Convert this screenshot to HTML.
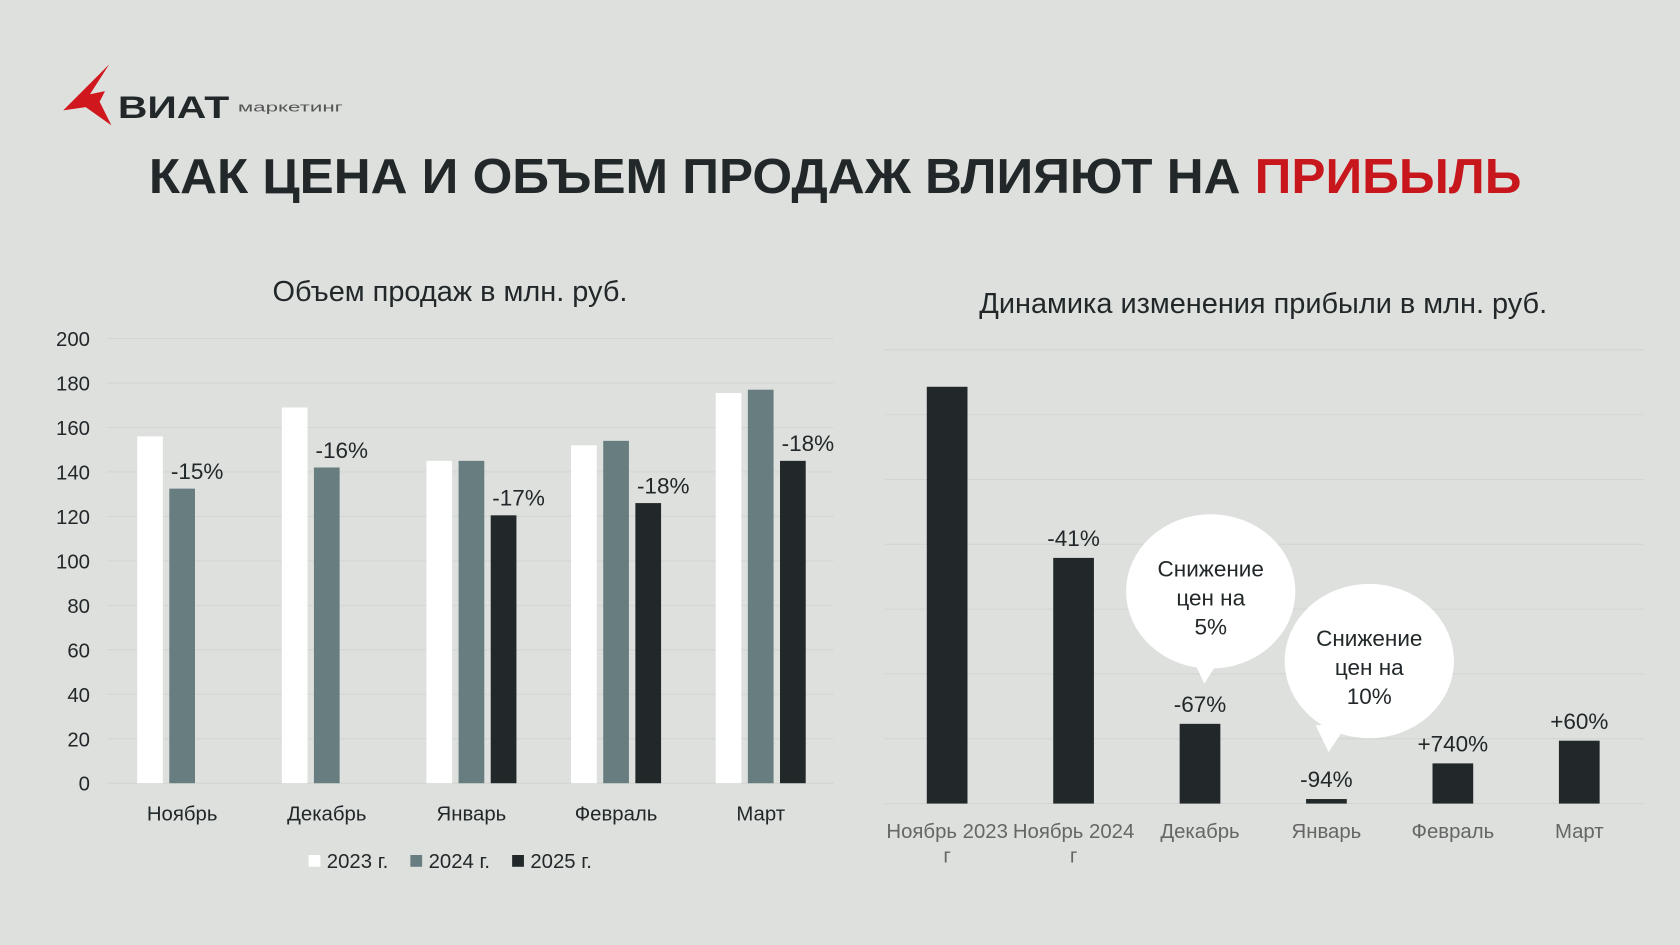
<!DOCTYPE html>
<html><head><meta charset="utf-8">
<style>
html,body{margin:0;padding:0;background:#dde0dd;}
svg{display:block;}
text{font-family:"Liberation Sans Narrow","Liberation Sans",sans-serif;}
</style></head>
<body>
<svg id="root" width="1680" height="945" viewBox="0 0 1568 882" xmlns="http://www.w3.org/2000/svg">
<rect width="1568" height="882" fill="#dde0dd"/>
<g>
<polygon points="102,60 59,103 80,100 104,117 93,95 98,85 84,88" fill="#d0171d"/>
<text x="110" y="110" font-family="Liberation Sans" font-weight="bold" font-size="29" fill="#222829" textLength="104" lengthAdjust="spacingAndGlyphs">ВИАТ</text>
<text x="222" y="104" font-family="Liberation Sans" font-size="12" fill="#555" textLength="98" lengthAdjust="spacingAndGlyphs">маркетинг</text>
</g>
<text x="139" y="180" font-family="Liberation Sans" font-weight="bold" font-size="46" fill="#222829" textLength="1281" lengthAdjust="spacingAndGlyphs">КАК ЦЕНА И ОБЪЕМ ПРОДАЖ ВЛИЯЮТ НА <tspan fill="#c8161d">ПРИБЫЛЬ</tspan></text>
<text x="420" y="281" text-anchor="middle" font-size="27" fill="#222829">Объем продаж в млн. руб.</text>
<text x="1179" y="292" text-anchor="middle" font-size="27" fill="#222829">Динамика изменения прибыли в млн. руб.</text>
<g id="left"></g>
<g id="right"></g>
</svg>
<script>
const NS='http://www.w3.org/2000/svg';
const salesCats=['Ноябрь','Декабрь','Январь','Февраль','Март'];
const sales2023=[156,169,145,152,175.5];
const sales2024=[132.5,142,145,154,177];
const sales2025=[0,0,120.5,126,145];
const salesLabels=['-15%','-16%','-17%','-18%','-18%'];
const salesLabelSeries=[1,1,2,2,2];
const salesTicks=[0,20,40,60,80,100,120,140,160,180,200];
const profitCats=[['Ноябрь 2023','г'],['Ноябрь 2024','г'],['Декабрь'],['Январь'],['Февраль'],['Март']];
const profitValues=[6.43,3.79,1.23,0.07,0.62,0.97];
const profitLabels=['','-41%','-67%','-94%','+740%','+60%'];
const profitGrid=[0,1,2,3,4,5,6,7];

function mk(tag,attrs,parent,txt){const e=document.createElementNS(NS,tag);for(const k in attrs)e.setAttribute(k,attrs[k]);if(txt!==undefined)e.textContent=txt;parent.appendChild(e);return e;}

// left chart
const L=document.getElementById('left');
const ly=v=>731-v*2.075;
const lx=i=>170+i*135;
salesTicks.forEach(t=>{
 const g=mk('line',{x1:100,x2:778,y1:ly(t),y2:ly(t),stroke:'#d2d6d2','stroke-width':1},L);
 
 
 const tl=mk('text',{x:84,y:ly(t)+7,'text-anchor':'end','font-size':19,fill:'#222829'},L,String(t));
 
 
});
const series=[sales2023,sales2024,sales2025];
const colors=['#ffffff','#687d80','#222829'];
const snames=['2023','2024','2025'];
salesCats.forEach((c,i)=>{
 series.forEach((s,j)=>{
  if(s[i]<=0)return;
  const b=mk('rect',{x:lx(i)+(j-1)*30-12,y:ly(s[i]),width:24,height:ly(0)-ly(s[i]),fill:colors[j]},L);
  
  
 });
 const sj=salesLabelSeries[i];
 const lab=mk('text',{x:lx(i)+(sj-1)*30+14,y:ly(series[sj][i])-9,'text-anchor':'middle','font-size':21,fill:'#222829'},L,salesLabels[i]);
 
 
 const xl=mk('text',{x:lx(i),y:766,'text-anchor':'middle','font-size':19,fill:'#222829'},L,c);
 
 
});
const legX=[288,383,478];
snames.forEach((n,j)=>{
 const sq=mk('rect',{x:legX[j],y:798,width:11,height:11,fill:colors[j]},L);
 
 
 const t=mk('text',{x:legX[j]+17,y:810,'font-size':19,fill:'#222829'},L,n+' г.');
 
 
});

// right chart
const R=document.getElementById('right');
const ry=v=>750-v*60.5;
const rx=i=>884+i*118;
profitGrid.forEach(t=>{
 const g=mk('line',{x1:826,x2:1534,y1:ry(t),y2:ry(t),stroke:'#d2d6d2','stroke-width':1},R);
 
 
});
profitCats.forEach((c,i)=>{
 const b=mk('rect',{x:rx(i)-19,y:ry(profitValues[i]),width:38,height:ry(0)-ry(profitValues[i]),fill:'#222829'},R);
 
 
 if(profitLabels[i]){
  const l=mk('text',{x:rx(i),y:ry(profitValues[i])-11,'text-anchor':'middle','font-size':21,fill:'#222829'},R,profitLabels[i]);
  
  
 }
 c.forEach((line,k)=>{
  const xl=mk('text',{x:rx(i),y:782+k*23,'text-anchor':'middle','font-size':19,fill:'#666'},R,line);
  
  
 });
});
</script>
<svg width="0" height="0" style="position:absolute"></svg>
<script>
(function(){
 const R=document.getElementById('right');
 const bubbles=[{cx:1130,cy:552,tx:1124,ty:638,lines:['Снижение','цен на','5%']},{cx:1278,cy:617,tx:1240,ty:702,lines:['Снижение','цен на','10%']}];
 bubbles.forEach((b,i)=>{
  const g=document.createElementNS(NS,'g');
  
  
  R.appendChild(g);
  mk('path',{d:`M${b.tx-12} ${b.cy+60} L${b.tx} ${b.ty} L${b.tx+18} ${b.cy+58} Z`,fill:'#fff'},g);
  mk('ellipse',{cx:b.cx,cy:b.cy,rx:79,ry:72,fill:'#fff'},g);
  b.lines.forEach((ln,k)=>{
   const t=mk('text',{x:b.cx,y:b.cy-14+k*27,'text-anchor':'middle','font-size':21,fill:'#222829'},g,ln);
   
   
  });
 });
})();
</script>
</body></html>
